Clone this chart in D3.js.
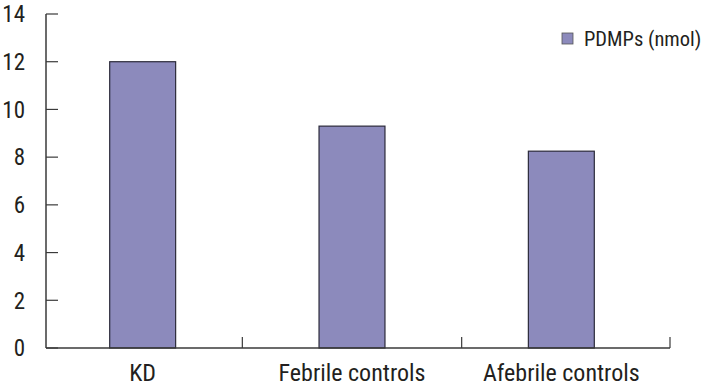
<!DOCTYPE html>
<html>
<head>
<meta charset="utf-8">
<script src="https://cdn.jsdelivr.net/npm/d3@7"></script>
<style>
  body { margin: 0; background: #fff; }
  text { font-family: "Liberation Sans Narrow", "Arial Narrow", "Roboto Condensed", sans-serif; fill: #231f20; }
</style>
</head>
<body>
<div id="chart"></div>
<script>
const categories = ['KD', 'Febrile controls', 'Afebrile controls'];
const values = [12, 9.3, 8.25];
const yTicks = [0, 2, 4, 6, 8, 10, 12, 14];
const seriesName = 'PDMPs (nmol)';

const width = 704, height = 386;
const axisColor = '#3a3a3a';
const barColor = '#8c8abc';

const svg = d3.select('#chart').append('svg')
    .attr('width', width)
    .attr('height', height);

const y = d3.scaleLinear()
    .domain([0, 14])
    .range([348, 14]);

// bars sit slightly left of the axis span in the original
const x = d3.scaleBand()
    .domain(categories)
    .range([38, 666])
    .paddingInner(0.685)
    .paddingOuter(0.3425);

const axisLeft = 46, axisRight = 670;

// y axis
svg.append('line')
    .attr('x1', axisLeft).attr('x2', axisLeft)
    .attr('y1', y(14)).attr('y2', y(0))
    .attr('stroke', axisColor).attr('stroke-width', 1.5);

svg.selectAll('.ytick')
    .data(yTicks)
  .join('line')
    .attr('class', 'ytick')
    .attr('x1', axisLeft).attr('x2', axisLeft + 12)
    .attr('y1', d => y(d)).attr('y2', d => y(d))
    .attr('stroke', axisColor).attr('stroke-width', 1.2);

svg.selectAll('.ylabel')
    .data(yTicks)
  .join('text')
    .attr('class', 'ylabel')
    .attr('x', 25)
    .attr('y', d => y(d))
    .attr('dy', '0.36em')
    .attr('text-anchor', 'end')
    .style('font-size', '23px')
    .text(d => d);

// bars
svg.selectAll('.bar')
    .data(values)
  .join('rect')
    .attr('class', 'bar')
    .attr('x', (d, i) => x(categories[i]))
    .attr('y', d => y(d))
    .attr('width', x.bandwidth())
    .attr('height', d => y(0) - y(d))
    .attr('fill', barColor)
    .attr('stroke', '#2b2a3a')
    .attr('stroke-width', 1.2);

// x axis
svg.append('line')
    .attr('x1', axisLeft).attr('x2', axisRight)
    .attr('y1', y(0)).attr('y2', y(0))
    .attr('stroke', axisColor).attr('stroke-width', 1.5);

// category separators, slightly uneven in the original
const sepShift = [-5, 5, 4];
svg.selectAll('.xtick')
    .data(categories)
  .join('line')
    .attr('class', 'xtick')
    .attr('x1', (d, i) => x(d) + x.bandwidth() / 2 + x.step() / 2 + sepShift[i])
    .attr('x2', (d, i) => x(d) + x.bandwidth() / 2 + x.step() / 2 + sepShift[i])
    .attr('y1', y(0)).attr('y2', y(0) - 11)
    .attr('stroke', axisColor).attr('stroke-width', 1.2);

svg.selectAll('.xlabel')
    .data(categories)
  .join('text')
    .attr('class', 'xlabel')
    .attr('x', d => x(d) + x.bandwidth() / 2)
    .attr('y', 381)
    .attr('text-anchor', 'middle')
    .style('font-size', '24px')
    .text(d => d);

// legend
const legend = svg.append('g').attr('transform', 'translate(562,33)');
legend.append('rect')
    .attr('width', 11).attr('height', 11)
    .attr('fill', barColor)
    .attr('stroke', '#555').attr('stroke-width', 0.8);
legend.append('text')
    .attr('x', 22).attr('y', 5.5)
    .attr('dy', '0.36em')
    .style('font-size', '20.5px')
    .text(seriesName);
</script>
</body>
</html>
